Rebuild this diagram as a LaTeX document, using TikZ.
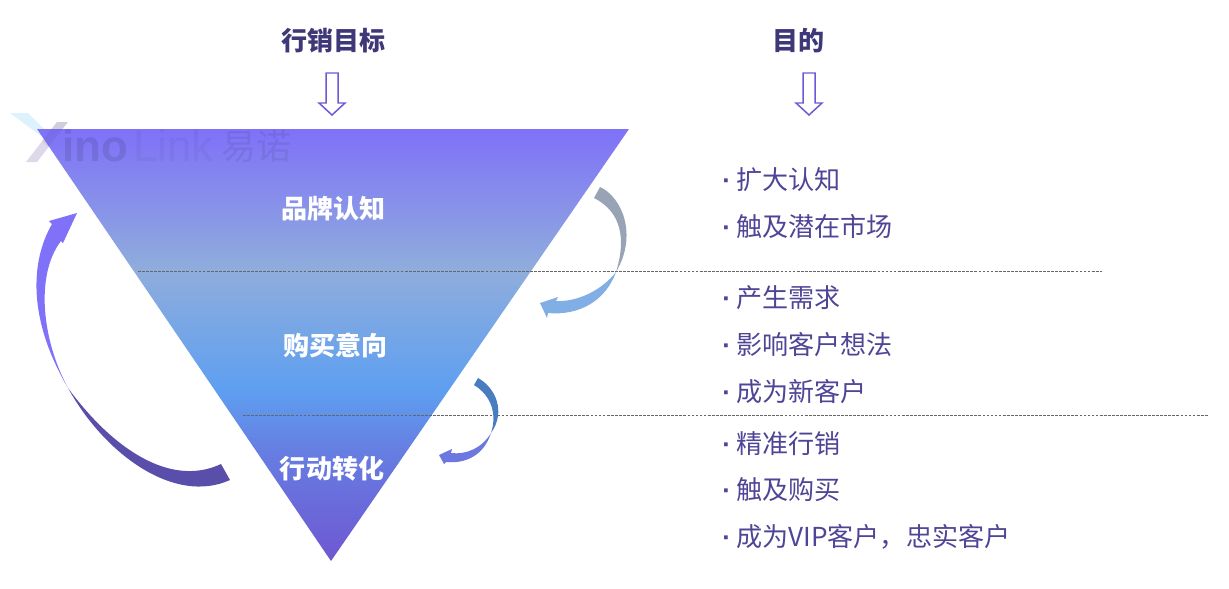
\documentclass[tikz,border=0pt]{standalone}
\usepackage{fontspec}
\setmainfont{Liberation Sans}
\newfontfamily\cjk{Noto Sans CJK SC}
\definecolor{funnelTop}{HTML}{7F71F8}
\definecolor{funnelMid}{HTML}{8FADDC}
\definecolor{funnelBlue}{HTML}{5E9FF0}
\definecolor{funnelEnd}{HTML}{6F57D2}
\definecolor{headInk}{HTML}{3F3878}
\definecolor{goalInk}{HTML}{4F4596}
\definecolor{outline}{HTML}{6A5AD6}
\definecolor{bendGrey}{HTML}{98A3B6}
\definecolor{bendSky}{HTML}{82AEE6}
\definecolor{bendSteel}{HTML}{4A7CC0}
\definecolor{bendIris}{HTML}{6C78E0}
\definecolor{bendDeep}{HTML}{5A4EAB}
\definecolor{logoSky}{HTML}{DDF2FD}
\definecolor{logoLilac}{HTML}{DDD9EA}
% the shading box maps the path onto its middle 50bp
\pgfdeclareverticalshading{funnelfade}{100bp}{
	color(0bp)=(funnelEnd);
	color(25bp)=(funnelEnd);
	color(38bp)=(funnelBlue!55!funnelEnd);
	color(44.8bp)=(funnelBlue);
	color(58.7bp)=(funnelMid);
	color(75bp)=(funnelTop);
	color(100bp)=(funnelTop)}
\newcommand{\aimdot}{\makebox[8pt][l]{\rmfamily\bfseries ·}}
\tikzset{
	headtext/.style={font=\cjk\bfseries\fontsize{14.8}{18}\selectfont, text=headInk},
	stagetext/.style={font=\cjk\bfseries\fontsize{14.8}{18}\selectfont, text=white},
	goaltext/.style={font=\cjk\fontsize{14.85}{18}\selectfont, text=goalInk, anchor=west, inner sep=0pt},
	hollowarrow/.style={draw=outline, line width=0.85pt, fill=white},
	divider/.style={draw=black!60, line width=0.35pt, dash pattern=on 1.6pt off 0.7pt},
	wordmark/.style={anchor=west, inner sep=0pt, text=black}
}
\begin{document}
\begin{tikzpicture}[x=0.02cm, y=-0.02cm]
	\useasboundingbox (0,0) rectangle (1229,588);

	% logo, under the funnel
	\fill[logoSky] (10,113) -- (28,113) -- (49,134) -- (45,139) -- cycle;
	\fill[logoLilac] (26,162) -- (37,162) -- (68,122) -- (57,122) -- cycle;

	% funnel
	\shade[shading=funnelfade] (37,129) -- (629,129) -- (331,561) -- cycle;

	% watermark
	\fill[black, opacity=0.05] (48,147) -- (68,122) -- (57,122) -- (42,141) -- cycle;
	\node[wordmark, opacity=0.1] (wmIno) at (62,146) {\fontsize{25}{25}\selectfont\bfseries ino};
	\node[wordmark, opacity=0.04] (wmLink) at (133,146) {\fontsize{25}{25}\selectfont Link};
	\node[wordmark, opacity=0.07] (wmName) at (221,146) {\cjk\fontsize{20}{20}\selectfont 易诺};

	% dividers
	\coordinate (ruleA) at (138,271);
	\coordinate (ruleAend) at (1102,271);
	\coordinate (ruleB) at (243,415);
	\coordinate (ruleBend) at (1208,415);
	\draw[divider] (ruleA) -- (ruleAend);
	\draw[divider] (ruleB) -- (ruleBend);

	% headings and hollow arrows
	\node[headtext] (headGoal) at (333,41) {行销目标};
	\node[headtext] (headAim) at (798,41) {目的};
	\foreach \ax in {332,809} {
		\draw[hollowarrow, line join=miter] (\ax-6,73) -- (\ax+6,73) -- (\ax+6,103) -- (\ax+13,103)
			-- (\ax,115) -- (\ax-13,103) -- (\ax-6,103) -- cycle;
	}

	% stages
	\node[stagetext] (stageBrand) at (333,209) {品牌认知};
	\node[stagetext] (stageIntent) at (335,345) {购买意向};
	\node[stagetext] (stageAct) at (332,469) {行动转化};

	% right column
	\node[goaltext] (aimA) at (722,180) {\aimdot 扩大认知};
	\node[goaltext] (aimB) at (722,226) {\aimdot 触及潜在市场};
	\node[goaltext] (aimC) at (722,298) {\aimdot 产生需求};
	\node[goaltext] (aimD) at (722,345) {\aimdot 影响客户想法};
	\node[goaltext] (aimE) at (722,392) {\aimdot 成为新客户};
	\node[goaltext] (aimF) at (722,444) {\aimdot 精准行销};
	\node[goaltext] (aimG) at (722,490) {\aimdot 触及购买};
	\node[goaltext] (aimH) at (722,537) {\aimdot 成为VIP客户，忠实客户};

	% big curved arrow, brand to intent
	\fill[bendGrey] (600,187) .. controls (622,197) and (638,235) .. (616,272)
		.. controls (626,240) and (622,212) .. (594,198) -- cycle;
	\fill[bendSky] (616,272) .. controls (606,300) and (580,316) .. (548,313)
		-- (547,318) -- (540,303) -- (558,297) -- (556,301)
		.. controls (578,302) and (602,290) .. (616,272) -- cycle;

	% small curved arrow, intent to action
	\fill[bendSteel] (478,378) .. controls (496,388) and (506,412) .. (491,433)
		.. controls (497,415) and (492,396) .. (474,385) -- cycle;
	\fill[bendIris] (491,433) .. controls (484,455) and (466,464) .. (446,462)
		-- (444,464) -- (439,455) -- (452,449) -- (451,453)
		.. controls (466,455) and (482,448) .. (491,433) -- cycle;

	% long curved arrow, action back to brand
	\fill[bendDeep] (68,388) .. controls (105,455) and (175,505) .. (230,480)
		-- (221,464) .. controls (170,488) and (112,448) .. (68,388) -- cycle;
	\fill[funnelTop] (68,388) .. controls (42,340) and (35,275) .. (61,241)
		-- (63,243) -- (77,213) -- (49,221) -- (52,224)
		.. controls (30,262) and (28,320) .. (68,388) -- cycle;
\end{tikzpicture}
\end{document}
